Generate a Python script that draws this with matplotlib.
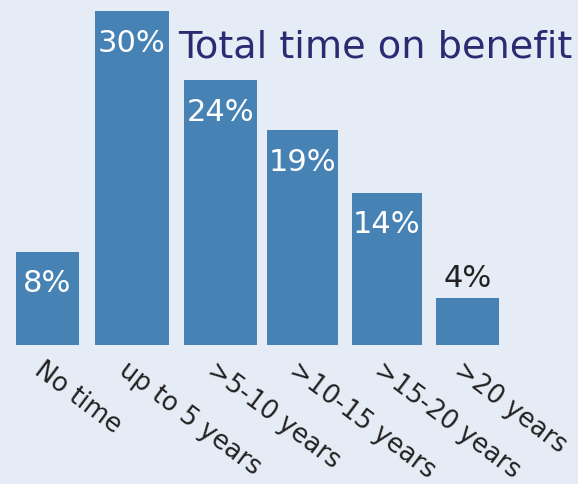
import matplotlib
matplotlib.use("Agg")
import matplotlib.pyplot as plt
import numpy as np

# data
categories = ["No time", "up to 5 years", ">5-10 years", ">10-15 years", ">15-20 years", ">20 years"]
values = [8.4, 30.0, 23.8, 19.3, 13.7, 4.2]
labels = ["8%", "30%", "24%", "19%", "14%", "4%"]

bg = "#e6ecf5"
bar_color = "#4682b4"

fig = plt.figure(figsize=(5.78, 4.85), dpi=100, facecolor=bg)
ax = fig.add_axes([0, 139 / 485, 1, 346 / 485])
ax.set_facecolor(bg)

# bar centres and widths as laid out in the picture (x in units of 84 px)
x = np.array([47.5, 132, 220.5, 302.5, 387, 467.5]) / 84
widths = [0.75, 0.88, 0.87, 0.85, 0.83, 0.75]
ax.bar(x, values, width=widths, color=bar_color)

ax.set_xlim(0, 578 / 84)
ax.set_ylim(0, 346 / 11.13)
ax.axis("off")

# value labels, white inside the bars, dark above the short one
for xi, v, lab in zip(x, values, labels):
    if v > 6:
        ax.text(xi, v - 1.5, lab, ha="center", va="top", color="white", fontsize=22)
    else:
        ax.text(xi, v + 0.6, lab, ha="center", va="bottom", color="#222222", fontsize=22)

# rotated category labels under the bars
for xi, cat in zip(x, categories):
    ax.text(xi - 0.03, -1.0, cat, ha="left", va="top", rotation=-37,
            rotation_mode="anchor", color="#222222", fontsize=18.5)

ax.text(0.99, 0.94, "Total time on benefit", transform=fig.transFigure,
        ha="right", va="top", color="#2b2a73", fontsize=27.5)

fig.savefig("out.png", dpi=100, facecolor=bg)
